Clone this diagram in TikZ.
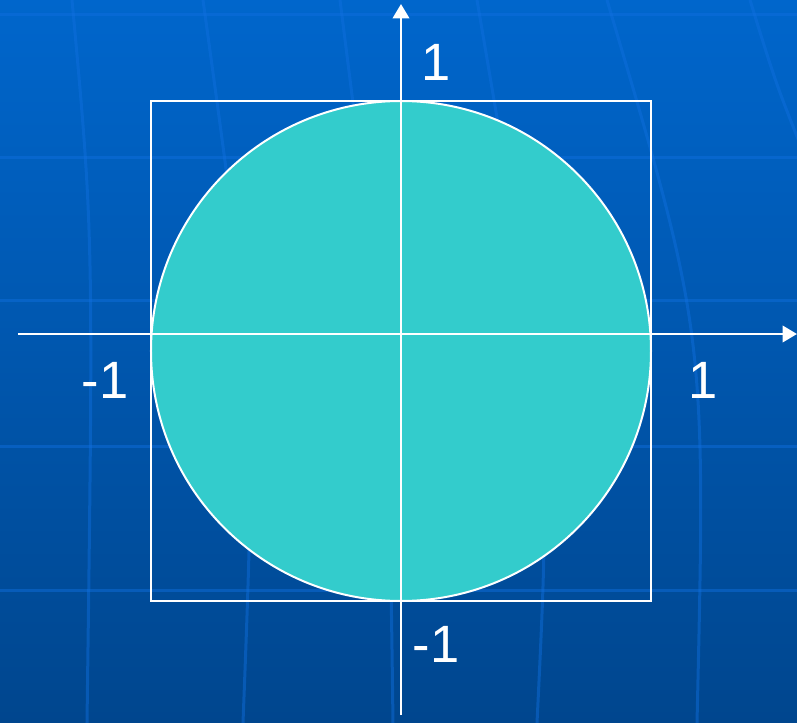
\documentclass[tikz,border=0pt]{standalone}
\usepackage{fontspec}
\setmainfont{Liberation Sans}
\definecolor{bgTop}{HTML}{0066CC}
\definecolor{bgBottom}{HTML}{00468E}
\definecolor{gridBlue}{HTML}{1070E0}
\definecolor{discTeal}{HTML}{33CCCC}
\usetikzlibrary{arrows.meta}

\begin{document}
\begin{tikzpicture}[x=100pt, y=100pt,
  axis/.style={white, line width=1pt, -{Triangle[length=5.8pt, width=6.6pt]}},
  outline/.style={white, line width=0.8pt},
  gridline/.style={gridBlue, line width=1.2pt, opacity=0.45},
  ticklabel/.style={text=white, font=\fontsize{21}{21}\selectfont, inner sep=0pt}]

  % background
  \useasboundingbox (-1.604,-1.556) rectangle (1.584,1.336);
  \shade[top color=bgTop, bottom color=bgBottom] (-1.604,-1.556) rectangle (1.584,1.336);
  \foreach \y in {1.276, 0.708, 0.136, -0.448, -1.024}
    \draw[gridline] (-1.604,\y) -- (1.584,\y);
  \draw[gridline] (-1.316,1.336) .. controls (-1.23,0.4) .. (-1.256,-1.556);
  \draw[gridline] (-0.792,1.336) .. controls (-0.58,-0.2) .. (-0.632,-1.556);
  \draw[gridline] (-0.244,1.336) .. controls (-0.05,-0.2) .. (-0.032,-1.556);
  \draw[gridline] (0.304,1.336) .. controls (0.60,-0.4) .. (0.544,-1.556);
  \draw[gridline] (0.824,1.336) .. controls (1.22,0.0) .. (1.184,-1.556);
  \draw[gridline] (1.396,1.336) .. controls (1.50,1.0) .. (1.62,0.70);

  % square and disc, a little below the x axis
  \draw[outline] (-1,-1.068) rectangle (1,0.932);
  \fill[discTeal] (0,-0.068) circle (1);
  \draw[outline] (0,-0.068) circle (1);

  % axes
  \coordinate (xneg) at (-1.532,0);
  \coordinate (xpos) at (1.584,0);
  \coordinate (yneg) at (0,-1.524);
  \coordinate (ypos) at (0,1.32);
  \draw[axis] (xneg) -- (xpos);
  \draw[axis] (yneg) -- (ypos);

  \node[ticklabel] (ytop) at (0.14,1.088) {1};
  \node[ticklabel] (ybot) at (0.14,-1.24) {-1};
  \node[ticklabel] (xleft) at (-1.184,-0.184) {-1};
  \node[ticklabel] (xright) at (1.208,-0.184) {1};
\end{tikzpicture}
\end{document}
